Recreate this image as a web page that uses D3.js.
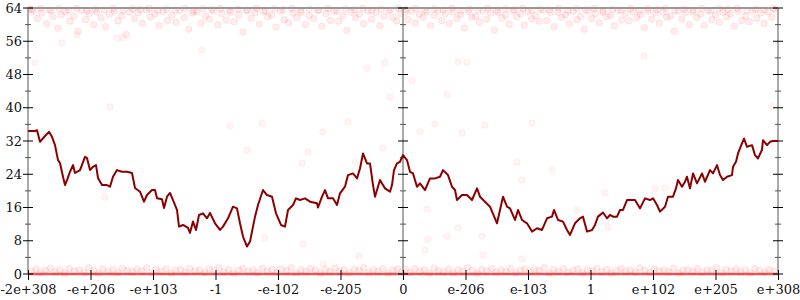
<!DOCTYPE html>
<html><head><meta charset="utf-8">
<script src="https://cdn.jsdelivr.net/npm/d3@7"></script>
<style>
html,body{margin:0;padding:0;background:#fff;}
svg{display:block;font-family:"DejaVu Serif",serif;}
</style></head>
<body>
<svg id="chart" width="800" height="300"></svg>
<script>
// ---- data ----
const xTickLabels = ["-2e+308","-e+206","-e+103","-1","-e-102","-e-205","0","e-206","e-103","1","e+102","e+205","e+308"];
const xTickPos = [-6,-5,-4,-3,-2,-1,0,1,2,3,4,5,6];
const yTicks = [0,4,8,12,16,20,24,28,32,36,40,44,48,52,56,60,64];
const yLabelTicks = [0,8,16,24,32,40,48,56,64];
const saturatedLevels = [0];

const lineT = [-6,-5.888,-5.856,-5.808,-5.728,-5.664,-5.616,-5.568,-5.52,-5.488,-5.44,-5.408,-5.376,-5.328,-5.28,-5.248,-5.168,-5.088,-5.056,-5.008,-4.96,-4.912,-4.88,-4.816,-4.736,-4.688,-4.64,-4.576,-4.496,-4.416,-4.336,-4.288,-4.208,-4.144,-4.096,-4.016,-3.968,-3.936,-3.856,-3.824,-3.776,-3.728,-3.68,-3.616,-3.584,-3.52,-3.44,-3.408,-3.36,-3.312,-3.264,-3.2,-3.136,-3.088,-3.008,-2.928,-2.88,-2.8,-2.72,-2.656,-2.608,-2.56,-2.496,-2.448,-2.368,-2.32,-2.24,-2.176,-2.096,-2.032,-1.952,-1.888,-1.84,-1.76,-1.712,-1.648,-1.568,-1.488,-1.376,-1.36,-1.296,-1.248,-1.2,-1.12,-1.056,-1.008,-0.928,-0.88,-0.8,-0.736,-0.688,-0.64,-0.576,-0.528,-0.48,-0.448,-0.368,-0.288,-0.208,-0.176,-0.144,-0.096,-0.048,0,
0.064,0.112,0.16,0.224,0.272,0.352,0.432,0.512,0.592,0.64,0.72,0.784,0.832,0.864,0.944,1.024,1.104,1.184,1.232,1.312,1.392,1.504,1.552,1.6,1.664,1.712,1.792,1.84,1.904,1.984,2.064,2.144,2.224,2.304,2.384,2.416,2.48,2.56,2.624,2.672,2.752,2.832,2.88,2.944,3.024,3.072,3.12,3.2,3.264,3.312,3.36,3.424,3.472,3.52,3.584,3.664,3.712,3.792,3.872,3.952,4.0,4.064,4.112,4.192,4.24,4.32,4.368,4.4,4.464,4.512,4.544,4.592,4.64,4.704,4.784,4.832,4.912,4.96,5.024,5.072,5.12,5.184,5.264,5.28,5.328,5.36,5.424,5.456,5.504,5.584,5.632,5.68,5.744,5.76,5.824,5.872,5.92,6];
const lineV = [34.4,34.4,34.6,31.8,33.2,34.2,33.0,31.0,27.4,26.7,23.4,21.4,22.6,24.6,26.2,24.3,25.0,28.2,27.9,25.0,25.8,26.2,23.1,21.4,21.4,21.0,23.4,25.0,24.6,24.6,24.3,20.7,19.8,17.4,19.0,20.2,20.2,18.2,18.0,15.9,18.6,19.5,17.8,15.4,11.4,11.8,11.1,9.9,12.6,10.6,14.2,14.6,13.4,14.7,12.2,10.6,11.4,13.4,16.2,15.8,12.2,9.0,6.6,7.8,13.8,16.6,20.2,19.0,18.6,14.6,11.8,11.4,15.4,16.6,18.2,17.8,18.2,17.4,17.0,16.0,18.6,20.2,18.2,18.2,16.6,19.4,21.0,23.8,24.2,23.0,25.4,29.0,26.6,26.6,21.4,18.6,22.6,20.6,19.8,21.4,25.0,26.6,27.0,28.6,
27.4,24.6,24.2,21.0,21.8,20.2,23.0,23.0,23.4,25.0,23.8,21.0,20.2,17.8,19.0,19.0,17.8,20.6,18.6,17.4,16.2,12.2,15.4,18.6,16.2,15.8,13.0,15.4,13.0,12.2,10.2,11.0,10.6,13.4,13.8,15.4,13.0,12.6,10.6,9.4,12.2,13.4,13.8,10.2,10.6,11.8,13.8,14.8,13.4,14.2,13.8,13.8,15.4,15.4,17.8,17.8,17.8,15.8,18.2,17.8,18.2,16.6,15.0,16.2,18.6,18.6,20.6,22.6,21.0,22.2,23.4,20.6,24.2,21.8,24.2,22.2,25.0,24.2,26.2,23.8,22.6,23.4,23.8,25.8,27.0,29.0,31.4,32.6,30.6,31.0,28.6,27.8,29.9,32.2,31.0,31.8,32.0,32.0];

const topDots = [[-5.97,63.8],[-5.92,63.2],[-5.85,61.5],[-5.78,62.8],[-5.7,60.2],[-5.66,63.5],[-5.6,61.9],[-5.52,59.1],[-5.47,62.4],[-5.4,63.1],[-5.33,60.8],[-5.27,62.0],[-5.2,58.4],[-5.14,63.4],[-5.08,61.2],[-5.02,62.7],[-4.95,60.0],[-4.9,63.0],[-4.83,61.6],[-4.76,59.5],[-4.7,62.5],[-4.62,63.3],[-4.56,60.9],[-4.5,62.1],[-4.43,57.6],[-4.37,63.0],[-4.3,61.4],[-4.24,62.9],[-4.17,60.3],[-4.1,63.5],[-4.04,61.8],[-3.97,62.6],[-3.9,59.8],[-3.84,63.2],[-3.77,61.0],[-3.7,62.3],[-3.63,60.6],[-3.57,63.4],[-3.5,61.7],[-3.43,58.9],[-3.37,62.8],[-3.3,63.1],[-3.23,60.4],[-3.16,62.0],[-3.1,61.3],[-3.03,63.3],[-2.96,59.9],[-2.9,62.6],[-2.83,61.1],[-2.76,63.0],[-2.7,60.7],[-2.63,62.4],[-2.56,58.2],[-2.5,63.4],[-2.43,61.5],[-2.37,62.9],[-2.3,60.1],[-2.23,63.1],[-2.16,61.9],[-2.1,62.3],[-2.03,59.4],[-1.96,63.3],[-1.9,61.2],[-1.83,60.5],[-1.76,62.8],[-1.7,61.7],[-1.63,63.0],[-1.56,60.0],[-1.5,62.2],[-1.43,61.4],[-1.36,63.4],[-1.3,59.6],[-1.23,62.7],[-1.16,61.0],[-1.1,63.2],[-1.03,60.8],[-0.96,62.1],[-0.9,58.6],[-0.83,63.0],[-0.76,61.6],[-0.7,62.5],[-0.63,60.2],[-0.56,63.3],[-0.5,61.3],[-0.43,62.9],[-0.37,59.7],[-0.3,62.0],[-0.23,63.4],[-0.16,61.8],[-0.1,60.9],[-0.04,62.7],
[0.03,62.9],[0.08,61.2],[0.14,63.3],[0.2,60.4],[0.26,62.5],[0.32,61.7],[0.38,63.1],[0.44,59.8],[0.5,62.2],[0.56,63.4],[0.62,61.0],[0.68,62.7],[0.74,60.3],[0.8,63.0],[0.86,61.5],[0.92,62.4],[0.98,59.2],[1.04,63.2],[1.1,61.8],[1.16,62.0],[1.22,60.6],[1.28,63.4],[1.34,61.3],[1.4,62.8],[1.46,58.7],[1.52,63.0],[1.58,61.6],[1.64,62.3],[1.7,60.1],[1.76,63.3],[1.82,61.9],[1.88,62.6],[1.94,59.9],[2.0,63.1],[2.06,61.4],[2.12,62.1],[2.18,60.8],[2.24,63.4],[2.3,61.0],[2.36,62.9],[2.42,59.5],[2.48,63.0],[2.54,61.7],[2.6,62.4],[2.66,60.2],[2.72,63.2],[2.78,61.2],[2.84,62.0],[2.9,58.9],[2.96,63.3],[3.02,61.5],[3.08,62.7],[3.14,60.5],[3.2,63.0],[3.26,61.9],[3.32,62.2],[3.38,59.7],[3.44,63.4],[3.5,61.1],[3.56,62.6],[3.62,60.9],[3.68,63.1],[3.74,61.6],[3.8,62.4],[3.86,59.3],[3.92,63.2],[3.98,61.3],[4.04,62.8],[4.1,60.4],[4.16,63.0],[4.22,61.8],[4.28,62.1],[4.34,58.4],[4.4,63.3],[4.46,61.4],[4.52,62.9],[4.58,60.0],[4.64,63.1],[4.7,61.7],[4.76,62.5],[4.82,59.8],[4.88,63.4],[4.94,61.2],[5.0,62.3],[5.06,60.6],[5.12,63.0],[5.18,61.9],[5.24,62.6],[5.3,59.6],[5.36,63.2],[5.42,61.0],[5.48,62.0],[5.54,60.7],[5.6,63.3],[5.66,61.5],[5.72,62.8],[5.78,60.3],[5.84,63.1],[5.9,61.8],[5.96,63.6]];

const topRowDots = [[-5.94,63.6],[-5.8,63.9],[-5.63,63.4],[-5.5,63.8],[-5.35,63.5],[-5.22,63.9],[-5.06,63.3],[-4.92,63.7],[-4.78,63.5],[-4.64,63.9],[-4.48,63.4],[-4.33,63.8],[-4.2,63.6],[-4.06,63.9],[-3.92,63.4],[-3.78,63.7],[-3.64,63.5],[-3.49,63.9],[-3.35,63.3],[-3.2,63.8],[-3.06,63.6],[-2.92,63.9],[-2.78,63.4],[-2.64,63.7],[-2.49,63.5],[-2.34,63.9],[-2.2,63.3],[-2.06,63.8],[-1.92,63.6],[-1.78,63.9],[-1.64,63.4],[-1.5,63.7],[-1.35,63.5],[-1.2,63.9],[-1.06,63.3],[-0.92,63.8],[-0.78,63.6],[-0.64,63.9],[-0.5,63.4],[-0.35,63.7],[-0.2,63.5],[-0.07,63.9],
[0.06,63.6],[0.2,63.9],[0.35,63.4],[0.5,63.8],[0.64,63.5],[0.78,63.9],[0.92,63.3],[1.06,63.7],[1.2,63.5],[1.35,63.9],[1.5,63.4],[1.64,63.8],[1.78,63.6],[1.92,63.9],[2.06,63.4],[2.2,63.7],[2.34,63.5],[2.49,63.9],[2.64,63.3],[2.78,63.8],[2.92,63.6],[3.06,63.9],[3.2,63.4],[3.35,63.7],[3.49,63.5],[3.64,63.9],[3.78,63.3],[3.92,63.8],[4.06,63.6],[4.2,63.9],[4.35,63.4],[4.5,63.7],[4.64,63.5],[4.78,63.9],[4.92,63.3],[5.06,63.8],[5.2,63.6],[5.35,63.9],[5.5,63.4],[5.64,63.7],[5.78,63.5],[5.93,63.9]];

const bottomDots = [[-5.95,0.6],[-5.87,1.2],[-5.8,0.3],[-5.72,0.9],[-5.64,1.4],[-5.57,0.5],[-5.49,1.0],[-5.41,0.2],[-5.34,1.3],[-5.26,0.7],[-5.18,1.1],[-5.1,0.4],[-5.03,1.5],[-4.95,0.8],[-4.87,0.2],[-4.8,1.2],[-4.72,0.6],[-4.64,1.0],[-4.56,0.3],[-4.49,1.4],[-4.41,0.9],[-4.33,0.5],[-4.26,1.2],[-4.18,0.7],[-4.1,1.5],[-4.02,0.3],[-3.95,1.0],[-3.87,0.6],[-3.79,1.3],[-3.71,0.2],[-3.64,0.9],[-3.56,1.1],[-3.48,0.4],[-3.41,1.4],[-3.33,0.7],[-3.25,1.0],[-3.17,0.3],[-3.1,1.2],[-3.02,0.8],[-2.94,1.5],[-2.87,0.5],[-2.79,1.1],[-2.71,0.2],[-2.63,0.9],[-2.56,1.3],[-2.48,0.6],[-2.4,1.0],[-2.33,0.3],[-2.25,1.4],[-2.17,0.7],[-2.09,1.1],[-2.02,0.4],[-1.94,1.2],[-1.86,0.8],[-1.79,1.5],[-1.71,0.3],[-1.63,1.0],[-1.55,0.6],[-1.48,1.3],[-1.4,0.9],[-1.32,0.2],[-1.24,1.1],[-1.17,0.5],[-1.09,1.4],[-1.01,0.7],[-0.94,1.0],[-0.86,0.3],[-0.78,1.2],[-0.7,0.8],[-0.63,1.5],[-0.55,0.4],[-0.47,1.0],[-0.4,0.6],[-0.32,1.3],[-0.24,0.2],[-0.16,0.9],[-0.09,1.2],[-0.02,0.5],
[0.04,1.1],[0.11,0.4],[0.19,1.3],[0.27,0.7],[0.34,1.0],[0.42,0.2],[0.5,1.4],[0.57,0.8],[0.65,0.5],[0.73,1.2],[0.8,0.3],[0.88,1.0],[0.96,0.6],[1.03,1.5],[1.11,0.9],[1.19,0.2],[1.26,1.1],[1.34,0.7],[1.42,1.3],[1.49,0.4],[1.57,1.0],[1.65,0.6],[1.72,1.4],[1.8,0.3],[1.88,0.9],[1.95,1.2],[2.03,0.5],[2.11,1.0],[2.18,0.8],[2.26,1.5],[2.34,0.2],[2.41,1.1],[2.49,0.6],[2.57,1.3],[2.64,0.4],[2.72,0.9],[2.8,1.2],[2.87,0.3],[2.95,1.0],[3.03,0.7],[3.1,1.4],[3.18,0.5],[3.26,1.1],[3.33,0.2],[3.41,0.8],[3.49,1.3],[3.56,0.6],[3.64,1.0],[3.72,0.4],[3.79,1.5],[3.87,0.9],[3.95,0.3],[4.02,1.2],[4.1,0.7],[4.18,1.0],[4.25,0.5],[4.33,1.4],[4.41,0.2],[4.48,0.9],[4.56,1.1],[4.64,0.6],[4.71,1.3],[4.79,0.4],[4.87,1.0],[4.94,0.8],[5.02,1.5],[5.1,0.3],[5.17,1.1],[5.25,0.7],[5.33,1.2],[5.4,0.5],[5.48,1.0],[5.56,0.2],[5.63,1.3],[5.71,0.8],[5.79,0.4],[5.86,1.1],[5.94,0.7]];

const sparseDots = [[-5.456,55.6],[-4.688,40.2],[-5.888,50.8],[-5.216,57.5],[-4.576,56.8],[-4.48,56.8],[0.88,51],[1.024,51],[-0.288,50.8],[-0.576,49.5],[0.144,46.5],[-0.208,42.6],[0.704,43.1],[-2.768,35.6],[-2.256,36.3],[-2.496,29.8],[-1.616,26.7],[-1.52,29.4],[-1.28,34.2],[-0.88,36.6],[-0.768,26.9],[-0.32,30.3],[-2.208,8.7],[-1.6,7.2],[-0.704,4.3],[-1.28,2.4],[0.512,36.1],[1.312,35.8],[2.064,36.3],[0.272,34.2],[0.944,33.9],[1.824,26.9],[1.904,22.6],[2.384,25],[3.232,19.5],[2.784,15.4],[0.384,15.6],[0.704,9.1],[0.88,11.1],[0.4,8.4],[1.264,9.1],[1.904,3.6],[1.28,4.6],[0.352,5.8],[5.904,40.4],[4.032,20.5],[4.192,20.7],[3.28,11.3],[-4.768,18.5],[-3.216,53.9],[3.856,52.5]];

// ---- chart ----
const svg = d3.select("#chart");
const x = d3.scaleLinear().domain([-6, 6]).range([28, 778]);
const y = d3.scaleLinear().domain([0, 64]).range([274, 8]);

// saturated row of points at zero
svg.append("g").selectAll("line").data(saturatedLevels).join("line")
  .attr("x1", x(-6)).attr("x2", x(6))
  .attr("y1", d => y(d)).attr("y2", d => y(d))
  .attr("stroke", "#e23a3a").attr("stroke-width", 2.5).attr("stroke-opacity", 0.85);

function drawDots(data, fo, so) {
  svg.append("g").selectAll("circle").data(data).join("circle")
    .attr("cx", d => x(d[0])).attr("cy", d => y(d[1])).attr("r", 3.3)
    .attr("fill", "#ff0000").attr("fill-opacity", fo)
    .attr("stroke", "#ff0000").attr("stroke-opacity", so).attr("stroke-width", 1);
}
drawDots(topDots.concat(topRowDots, bottomDots), 0.07, 0.08);
drawDots(sparseDots, 0.045, 0.05);

// top border
svg.append("line").attr("x1", x(-6)).attr("x2", x(6)).attr("y1", y(64)).attr("y2", y(64))
  .attr("stroke", "#999").attr("stroke-width", 2);

// vertical axes (left, middle, right)
const axesAt = [-6, 0, 6];
axesAt.forEach(a => {
  const g = svg.append("g");
  g.append("line").attr("x1", x(a)).attr("x2", x(a)).attr("y1", y(0)).attr("y2", y(64))
    .attr("stroke", "#aaa").attr("stroke-width", 2);
  g.selectAll("line.tick").data(yTicks).join("line").attr("class", "tick")
    .attr("x1", d => x(a) - (d % 8 === 0 ? 5 : 3))
    .attr("x2", d => x(a) + (d % 8 === 0 ? 5 : 3))
    .attr("y1", d => y(d)).attr("y2", d => y(d))
    .attr("stroke", d => d % 8 === 0 ? "#000" : "#555").attr("stroke-width", 1);
});

// y labels
svg.append("g").selectAll("text").data(yLabelTicks).join("text")
  .attr("x", x(-6) - 6).attr("y", d => y(d)).attr("dy", "0.35em")
  .attr("text-anchor", "end").attr("font-size", 13).attr("fill", "#111")
  .text(d => d);

// x axis
const xAxis = d3.axisBottom(x).tickValues(xTickPos)
  .tickFormat((d, i) => xTickLabels[i]).tickSizeInner(6).tickSizeOuter(0).tickPadding(5);
const gx = svg.append("g").attr("transform", `translate(0,${y(0)})`).call(xAxis);
gx.select(".domain").remove();
gx.selectAll(".tick line").attr("y1", -4).attr("stroke", "#000");
gx.selectAll(".tick text").attr("font-family", "DejaVu Serif").attr("font-size", 13).attr("fill", "#111");

// line
svg.append("path").datum(lineT.map((t, i) => [t, lineV[i]]))
  .attr("fill", "none").attr("stroke", "#8b0000").attr("stroke-width", 2)
  .attr("stroke-linejoin", "round")
  .attr("d", d3.line().x(d => x(d[0])).y(d => y(d[1])));
</script>
</body></html>
